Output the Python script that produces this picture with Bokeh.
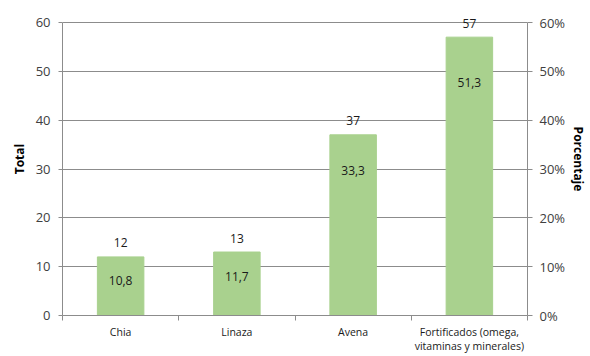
from bokeh.plotting import figure
from bokeh.models import Range1d, LinearAxis, FixedTicker, PrintfTickFormatter, ColumnDataSource
from bokeh.core.properties import value
from bokeh.embed import file_html
from bokeh.resources import INLINE

categories = ["Chia", "Linaza", "Avena", "Fortificados (omega,\nvitaminas y minerales)"]
totals = [12, 13, 37, 57]
percents = [10.8, 11.7, 33.3, 51.3]
ticks = list(range(0, 61, 10))

FONT = "Open Sans"
x = [i + 0.5 for i in range(len(categories))]
src = ColumnDataSource(dict(
    x=x, total=totals, pct=percents,
    total_lbl=[str(t) for t in totals],
    pct_lbl=[f"{v:.1f}".replace(".", ",") for v in percents],
))

FH = 313
ytop = 60 * FH / 293
p = figure(width=590, height=356, output_backend="svg", toolbar_location=None,
           x_range=Range1d(0, len(categories)), y_range=Range1d(0, ytop),
           min_border_left=62, min_border_right=63, min_border_top=2, min_border_bottom=41,
           frame_width=465, frame_height=FH)
p.outline_line_color = None
p.background_fill_color = "white"
p.border_fill_color = "white"
p.extra_y_ranges = {"pct": Range1d(0, ytop)}

p.vbar(x="x", top="total", width=0.4, source=src, color="#A9D18E")
p.text(x="x", y="total", text="total_lbl", source=src, text_align="center",
       text_baseline="middle", y_offset=-14, text_font=value(FONT), text_font_size="12px",
       text_color="#1a1a1a")
p.text(x="x", y="pct", text="pct_lbl", source=src, y_range_name="pct", text_align="center",
       text_baseline="middle", y_offset=18, text_font=value(FONT), text_font_size="12px",
       text_color="#1a1a1a")

grid_col = "#8c8c8c"
p.xgrid.visible = False
p.ygrid.grid_line_color = grid_col
p.ygrid.ticker = FixedTicker(ticks=ticks)

# left axis
ya = p.yaxis[0]
ya.ticker = FixedTicker(ticks=ticks)
ya.bounds = (0, 60)
ya.axis_label = "Total"
ya.axis_label_text_font = FONT
ya.axis_label_text_font_style = "bold"
ya.axis_label_text_font_size = "12px"
ya.axis_label_text_color = "#000000"
ya.axis_label_standoff = 5
ya.major_label_text_font = FONT
ya.major_label_text_font_size = "13px"
ya.major_label_text_color = "#404040"
ya.major_label_standoff = 8
ya.axis_line_color = grid_col
ya.major_tick_line_color = grid_col
ya.major_tick_in = 0
ya.major_tick_out = 4
ya.minor_tick_line_color = None

# right axis
ra = LinearAxis(y_range_name="pct", ticker=FixedTicker(ticks=ticks),
                formatter=PrintfTickFormatter(format="%d%%"))
ra.bounds = (0, 60)
ra.axis_label = "Porcentaje"
ra.axis_label_text_font = FONT
ra.axis_label_text_font_style = "bold"
ra.axis_label_text_font_size = "12px"
ra.axis_label_text_color = "#000000"
ra.axis_label_standoff = 2
ra.major_label_text_font = FONT
ra.major_label_text_font_size = "13px"
ra.major_label_text_color = "#404040"
ra.major_label_standoff = 7
ra.axis_line_color = grid_col
ra.major_tick_line_color = grid_col
ra.major_tick_in = 0
ra.major_tick_out = 5
ra.minor_tick_line_color = None
p.add_layout(ra, "right")

# bottom axis
xa = p.xaxis[0]
xa.ticker = FixedTicker(ticks=x, minor_ticks=list(range(len(categories) + 1)))
xa.major_label_overrides = {v: c for v, c in zip(x, categories)}
xa.major_label_text_font = FONT
xa.major_label_text_font_size = "10.5px"
xa.major_label_text_line_height = 1.0
xa.major_label_text_color = "#1a1a1a"
xa.major_label_standoff = 3
xa.axis_line_color = grid_col
xa.major_tick_line_color = None
xa.minor_tick_line_color = grid_col
xa.minor_tick_in = 0
xa.minor_tick_out = 5

open("out.html", "w").write(file_html(p, INLINE))
